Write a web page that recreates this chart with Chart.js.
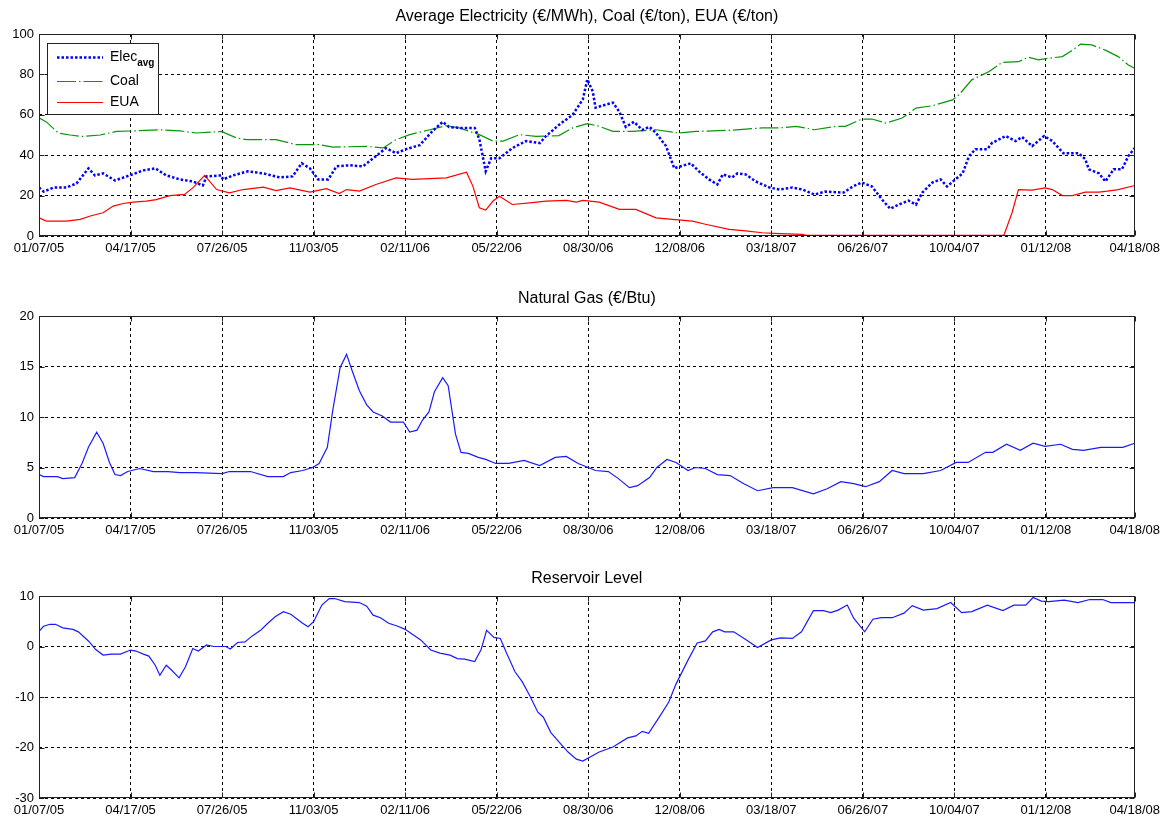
<!DOCTYPE html>
<html>
<head>
<meta charset="utf-8">
<title>Electricity, Coal, EUA, Gas, Reservoir</title>
<script src="https://cdn.jsdelivr.net/npm/chart.js@4.4.1/dist/chart.umd.min.js"></script>
<style>
  html, body { margin: 0; padding: 0; background: #fff; overflow: hidden; }
  canvas { position: absolute; left: 0; }
</style>
</head>
<body>
<canvas id="priceChart" width="1165" height="260" style="top:0px"></canvas>
<canvas id="gasChart" width="1165" height="260" style="top:282px"></canvas>
<canvas id="resChart" width="1165" height="260" style="top:562px"></canvas>
<script>
// x axis: days since 01/07/05
const tickDays = [0, 100, 200, 300, 400, 500, 600, 700, 800, 900, 1000, 1100, 1197];
const tickLabels = ["01/07/05", "04/17/05", "07/26/05", "11/03/05", "02/11/06", "05/22/06",
  "08/30/06", "12/08/06", "03/18/07", "06/26/07", "10/04/07", "01/12/08", "04/18/08"];

// average electricity (€/MWh)
const elecDays = [0,5,16,30,41,48,54,61,70,83,99,114,127,139,154,168,179,183,199,201,212,228,245,263,277,287,296,305,316,325,339,354,368,379,390,401,416,430,441,448,459,476,481,488,494,503,517,532,547,554,568,583,594,599,605,608,619,627,634,641,650,659,667,674,685,694,701,712,721,732,741,747,757,763,772,783,798,809,823,834,847,859,879,889,899,910,921,930,939,950,958,965,976,985,992,1001,1009,1016,1023,1036,1041,1056,1067,1074,1085,1098,1107,1119,1136,1143,1147,1158,1165,1174,1183,1190,1197];
const elecVals = [24,22,24,24,26,30,33.5,30,31,27.5,30,32.5,33.5,30,28,27,25,29.5,30,28,30,32,31,29,29.5,36,33.5,28,28,34.5,35,34.5,39.5,43.5,41,43,45,52,56.5,54,53.5,53.5,48,32,38.5,38.5,43.5,47,46,49.5,55,60,67.5,77.5,71.5,63.5,65,66,61.5,54,56.5,52.5,54,51,44.5,33.5,34.5,36,32,28,25.5,30.5,29,31,30.5,27,24,23,24,23,20.5,22,21.5,24.5,26.5,24.5,18,13.5,15.5,17.5,15.5,21.5,26.5,28,24.5,28,31,39.5,43,43,46,49.5,47,49,44.5,49.5,47,41,41,38,33,31,27,33,33,39.5,43.5];

// coal (€/ton)
const coalDays = [0,8,21,34,47,67,85,103,132,154,172,199,216,227,259,281,307,321,357,376,390,405,427,445,459,481,496,507,525,543,568,583,599,612,627,648,674,699,718,754,790,809,827,847,870,881,899,910,925,943,958,976,998,1005,1019,1038,1052,1070,1081,1092,1103,1118,1129,1138,1150,1165,1179,1190,1197];
const coalVals = [58.5,56.5,51,50,49.3,50,51.8,52,52.6,52,51,51.8,48.5,47.7,47.7,45.2,45.2,44,44.4,43.6,47.7,50.2,52.6,54.6,53.5,50.2,47,47,50.2,49.3,49.7,53.5,55.6,54.3,51.8,51.8,52.6,51,51.8,52.3,53.5,53.5,54.3,52.6,54.3,54.3,57.9,57.9,55.9,58.4,63.3,64.5,67.4,69.9,77.3,81.4,85.9,86.3,88.5,87.2,88,88.8,92,95,94.6,92,88.8,84.7,83];

// EUA (€/ton)
const euaDays = [0,8,30,45,56,70,81,92,103,117,128,143,159,168,181,194,208,223,245,259,274,296,314,328,336,350,368,390,408,445,467,474,481,488,496,503,517,536,554,576,587,594,612,634,652,674,692,714,728,754,772,790,809,834,838,1054,1063,1070,1085,1099,1107,1118,1129,1143,1158,1167,1179,1197];
const euaVals = [9,7.4,7.4,8.2,9.9,11.5,14.8,16.1,16.8,17.3,18,20,20.6,23.8,30,23,21.4,23,24.2,22.5,23.8,21.7,23.4,21,23,22.2,25.5,28.8,28,28.8,31.6,24.7,14,12.8,17.3,19.7,15.6,16.4,17.3,17.6,16.8,17.6,16.8,13.2,13.2,9,8.2,7.4,5.8,3.3,2.5,1.6,1.2,0.8,0.3,0.3,11.5,23,22.7,23.8,23,20,20,21.7,21.7,22.2,23,25];

// natural gas (€/Btu)
const gasDays = [0,5,20,26,39,47,54,63,70,77,83,89,97,110,125,141,154,171,200,208,231,250,267,275,288,299,306,315,321,329,336,342,350,358,365,375,384,398,405,413,419,426,432,441,447,455,461,469,480,488,499,513,530,547,564,576,589,600,608,622,633,645,654,667,675,686,696,709,717,728,741,755,770,785,802,823,846,861,876,890,903,918,932,945,966,985,1002,1015,1034,1042,1057,1072,1086,1099,1116,1129,1141,1160,1184,1197];
const gasVals = [4.3,4.1,4.1,3.9,4.0,5.4,7.0,8.5,7.4,5.5,4.3,4.2,4.6,4.9,4.6,4.6,4.5,4.5,4.4,4.6,4.6,4.1,4.1,4.5,4.7,5.0,5.4,7.0,10.7,14.9,16.2,14.6,12.6,11.2,10.5,10.1,9.5,9.5,8.5,8.7,9.7,10.5,12.5,13.9,13.1,8.3,6.5,6.4,6.0,5.8,5.4,5.4,5.7,5.2,6.0,6.1,5.4,5.0,4.7,4.6,3.9,3.0,3.2,4.0,5.0,5.8,5.5,4.7,5.0,4.9,4.3,4.2,3.4,2.7,3.0,3.0,2.4,2.9,3.6,3.4,3.1,3.6,4.7,4.4,4.4,4.7,5.5,5.5,6.5,6.5,7.3,6.7,7.4,7.1,7.3,6.8,6.7,7.0,7.0,7.4];

// reservoir level
const resDays = [0,5,12,18,26,37,43,54,62,70,79,89,100,106,114,120,127,132,139,145,153,160,168,174,183,191,204,209,217,225,233,242,250,258,267,275,288,294,300,309,317,323,334,350,358,365,373,382,392,400,409,417,428,438,449,457,465,476,483,489,497,504,511,520,528,536,545,551,559,568,578,587,594,612,627,643,652,659,666,679,688,696,709,719,728,736,743,749,759,772,785,800,810,823,833,846,857,865,873,883,890,902,911,920,932,945,954,966,981,996,1008,1019,1036,1053,1065,1078,1086,1095,1103,1120,1135,1148,1162,1171,1197];
const resVals = [3.0,4.0,4.4,4.4,3.7,3.4,2.9,1.1,-0.6,-1.7,-1.5,-1.5,-0.7,-0.9,-1.5,-1.9,-3.7,-5.7,-3.7,-4.7,-6.2,-4.0,-0.4,-0.9,0.3,0.0,0.0,-0.5,0.8,0.9,2.1,3.2,4.6,5.9,6.9,6.4,4.6,3.9,4.9,8.2,9.5,9.5,8.9,8.7,8.0,6.2,5.7,4.6,4.0,3.4,2.3,1.3,-0.7,-1.3,-1.7,-2.4,-2.5,-3.0,-0.6,3.2,1.8,1.6,-1.4,-5.0,-7.0,-9.7,-13.0,-14.0,-17.0,-18.9,-20.9,-22.3,-22.7,-20.9,-19.9,-18.1,-17.7,-16.8,-17.2,-13.6,-11.0,-7.4,-2.7,0.7,1.1,2.9,3.4,2.9,2.9,1.4,-0.2,1.3,1.7,1.6,2.9,7.1,7.1,6.7,7.2,8.2,5.6,2.9,5.4,5.7,5.7,6.6,8.1,7.2,7.5,8.7,6.7,6.9,8.2,7.1,8.2,8.2,9.7,9.0,8.9,9.2,8.7,9.3,9.3,8.7,8.7];

const FONT = '"Liberation Sans", Arial, sans-serif';
Chart.defaults.font.family = FONT;

function pts(days, vals) {
  return days.map((d, i) => ({ x: d, y: vals[i] }));
}

// matlab style box with inward ticks
const frameBox = {
  id: "frameBox",
  afterDraw(chart) {
    const ctx = chart.ctx, a = chart.chartArea;
    const L = Math.round(a.left) + 0.5, R = Math.round(a.right) - 0.5;
    const T = Math.round(a.top) + 0.5, B = Math.round(a.bottom) - 0.5;
    ctx.save();
    ctx.setLineDash([]);
    ctx.strokeStyle = "#222";
    ctx.lineWidth = 1;
    ctx.strokeRect(L, T, R - L, B - T);
    ctx.beginPath();
    chart.scales.y.ticks.forEach(t => {
      const y = Math.round(chart.scales.y.getPixelForValue(t.value)) + 0.5;
      ctx.moveTo(L, y); ctx.lineTo(L + 5, y);
      ctx.moveTo(R, y); ctx.lineTo(R - 5, y);
    });
    chart.scales.x.ticks.forEach(t => {
      const x = Math.round(chart.scales.x.getPixelForValue(t.value)) + 0.5;
      ctx.moveTo(x, B); ctx.lineTo(x, B - 5);
      ctx.moveTo(x, T); ctx.lineTo(x, T + 5);
    });
    ctx.stroke();
    ctx.restore();
  }
};

// legend box in upper left, with subscript on first label
const legendBox = {
  id: "legendBox",
  afterDraw(chart, args, opts) {
    if (!opts.show) return;
    const ctx = chart.ctx, a = chart.chartArea;
    const x0 = Math.round(a.left) + 8, y0 = Math.round(a.top) + 9;
    const rows = [14, 38, 59];
    ctx.save();
    ctx.fillStyle = "#fff";
    ctx.fillRect(x0, y0, 111, 71);
    ctx.strokeStyle = "#222";
    ctx.lineWidth = 1;
    ctx.setLineDash([]);
    ctx.strokeRect(x0 + 0.5, y0 + 0.5, 111, 71);
    chart.data.datasets.forEach((ds, i) => {
      const y = y0 + rows[i] + 0.5;
      ctx.strokeStyle = ds.borderColor;
      ctx.lineWidth = ds.borderWidth;
      ctx.setLineDash(ds.borderDash || []);
      ctx.beginPath();
      ctx.moveTo(x0 + 10, y);
      ctx.lineTo(x0 + 56, y);
      ctx.stroke();
      ctx.setLineDash([]);
      ctx.fillStyle = "#000";
      ctx.textAlign = "left";
      ctx.textBaseline = "middle";
      ctx.font = "14px " + FONT;
      ctx.fillText(opts.names[i], x0 + 63, y);
      if (opts.subs[i]) {
        const w = ctx.measureText(opts.names[i]).width;
        ctx.font = "bold 10px " + FONT;
        ctx.fillText(opts.subs[i], x0 + 63 + w, y + 6);
      }
    });
    ctx.restore();
  }
};

function panelOptions(title, yMin, yMax, yStep, legend) {
  return {
    responsive: false,
    animation: false,
    layout: { padding: { left: 0, right: 29, top: 0, bottom: 0 } },
    plugins: {
      legend: { display: false },
      tooltip: { enabled: false },
      title: {
        display: true, fullSize: false, text: title, color: "#000",
        font: { family: FONT, size: 16, weight: "normal", lineHeight: 1.25 },
        padding: { top: 7, bottom: 7 }
      },
      legendBox: legend || { show: false }
    },
    elements: { point: { radius: 0 }, line: { tension: 0 } },
    scales: {
      x: {
        type: "linear", min: 0, max: 1197,
        afterBuildTicks: s => { s.ticks = tickDays.map(v => ({ value: v })); },
        afterFit: s => { s.height = 24; },
        ticks: {
          autoSkip: false, maxRotation: 0, minRotation: 0, color: "#000", padding: 5,
          font: { family: FONT, size: 13 },
          callback: v => tickLabels[tickDays.indexOf(v)]
        },
        grid: { color: "#000", lineWidth: 1, drawTicks: false },
        border: { display: false, dash: [3, 3] }
      },
      y: {
        min: yMin, max: yMax,
        afterFit: s => { s.width = 39; },
        ticks: { stepSize: yStep, color: "#000", padding: 5, font: { family: FONT, size: 13 } },
        grid: { color: "#000", lineWidth: 1, drawTicks: false },
        border: { display: false, dash: [3, 3] }
      }
    }
  };
}

new Chart(document.getElementById("priceChart"), {
  type: "line",
  data: {
    datasets: [
      { label: "Elec avg", data: pts(elecDays, elecVals), borderColor: "#0000ff", borderWidth: 2.5, borderDash: [2.5, 2] },
      { label: "Coal", data: pts(coalDays, coalVals), borderColor: "#0a960a", borderWidth: 1.2, borderDash: [19, 3, 1.5, 3] },
      { label: "EUA", data: pts(euaDays, euaVals), borderColor: "#ff0000", borderWidth: 1.2 }
    ]
  },
  options: panelOptions("Average Electricity (€/MWh), Coal (€/ton), EUA (€/ton)", 0, 100, 20,
    { show: true, names: ["Elec", "Coal", "EUA"], subs: ["avg", "", ""] }),
  plugins: [frameBox, legendBox]
});

new Chart(document.getElementById("gasChart"), {
  type: "line",
  data: {
    datasets: [
      { label: "Natural Gas", data: pts(gasDays, gasVals), borderColor: "#1a1aff", borderWidth: 1.2 }
    ]
  },
  options: panelOptions("Natural Gas (€/Btu)", 0, 20, 5),
  plugins: [frameBox, legendBox]
});

new Chart(document.getElementById("resChart"), {
  type: "line",
  data: {
    datasets: [
      { label: "Reservoir Level", data: pts(resDays, resVals), borderColor: "#1a1aff", borderWidth: 1.2 }
    ]
  },
  options: panelOptions("Reservoir Level", -30, 10, 10),
  plugins: [frameBox, legendBox]
});
</script>
</body>
</html>
